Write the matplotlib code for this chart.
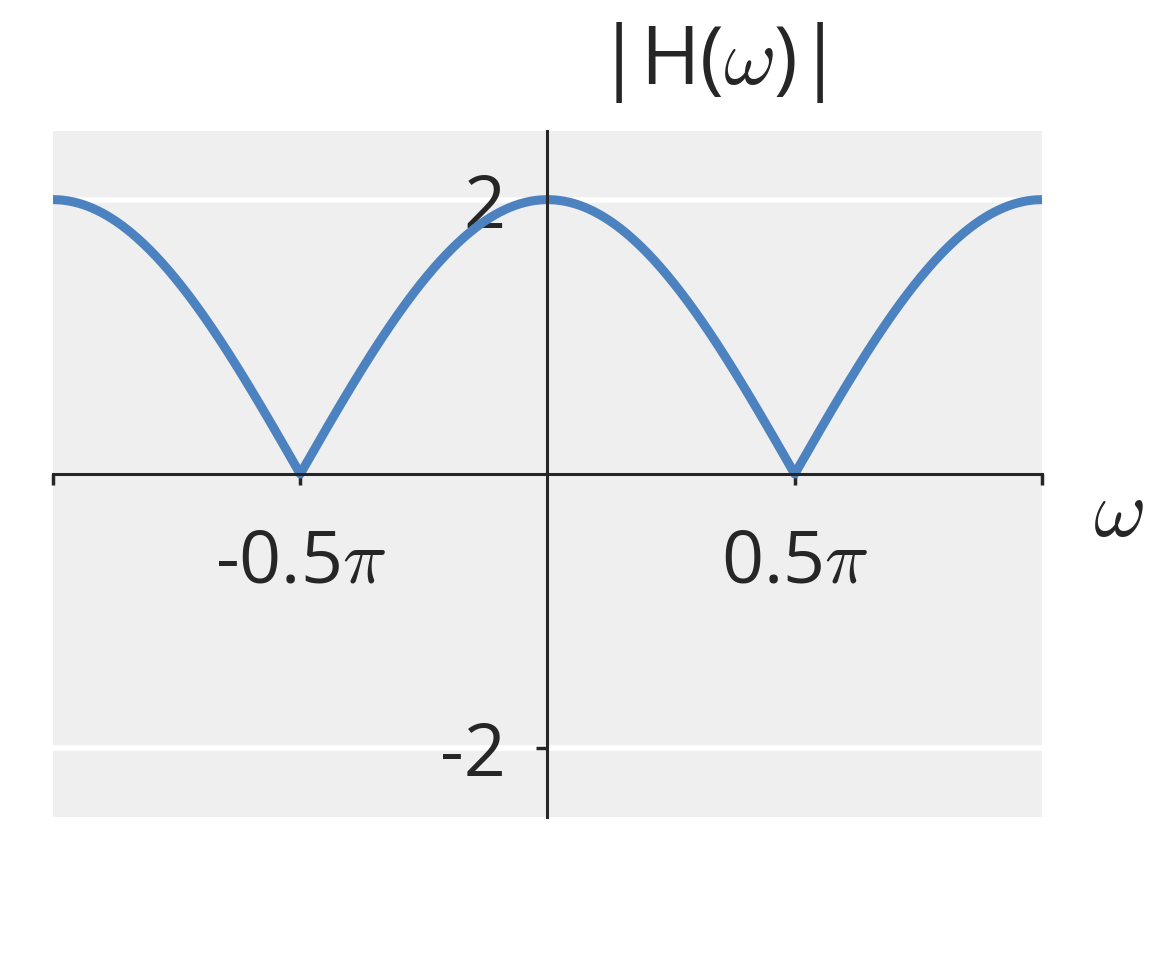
import numpy as np
import matplotlib
matplotlib.use('Agg')
import matplotlib.pyplot as plt

plt.rcParams['font.family'] = ['Open Sans', 'DejaVu Sans']
plt.rcParams['mathtext.fontset'] = 'cm'

# filter taps h[n]; the plot shows |H(w)| = |sum h[n] e^{-jwn}|
h = [1, 0, 1]
x_ticks = [-np.pi, -0.5 * np.pi, 0.5 * np.pi, np.pi]
x_tick_labels = ['', r'-0.5$\pi$', r'0.5$\pi$', '']
y_ticks = [-2, 2]
y_tick_labels = ['-2', '2']

omega = np.linspace(-np.pi, np.pi, 1001)
n = np.arange(len(h))
H = np.array(h) @ np.exp(-1j * np.outer(n, omega))
mag = np.abs(H)

fig = plt.figure(figsize=(11.52, 9.6), dpi=100)
ax = fig.add_axes([0.046, 0.149, 0.8585, 0.7145])
ax.set_facecolor('#efefef')

ax.plot(omega, mag, color='#4c82c0', lw=6.5, solid_capstyle='butt')

ax.set_xlim(-np.pi, np.pi)
ax.set_ylim(-2.5, 2.5)

for s in ['top', 'right']:
    ax.spines[s].set_visible(False)
ax.spines['left'].set_position(('data', 0))
ax.spines['bottom'].set_position(('data', 0))
for s in ['left', 'bottom']:
    ax.spines[s].set_color('#262626')
    ax.spines[s].set_linewidth(2.2)

ax.set_xticks(x_ticks)
ax.set_xticklabels(x_tick_labels)
ax.set_yticks(y_ticks)
ax.set_yticklabels(y_tick_labels)
ax.tick_params(axis='x', length=8, width=2.5, color='#262626', labelsize=53,
               labelcolor='#262626', pad=30)
ax.tick_params(axis='y', length=8, width=2.5, color='#262626', labelsize=53,
               labelcolor='#262626', pad=22)

ax.yaxis.grid(True, color='white', lw=4)
ax.set_axisbelow(True)

fig.text(0.616, 0.935, r'|H($\omega$)|', fontsize=58, color='#262626',
         ha='center', va='center')
fig.text(0.971, 0.464, r'$\omega$', fontsize=58, color='#262626',
         ha='center', va='center')

fig.savefig('out.png', dpi=100)
